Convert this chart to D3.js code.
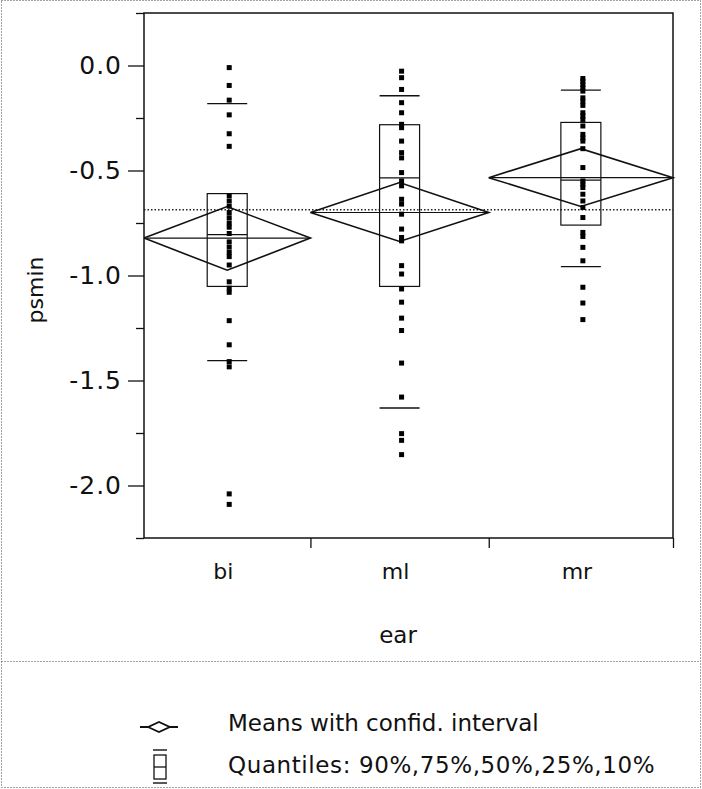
<!DOCTYPE html>
<html>
<head>
<meta charset="utf-8">
<script src="https://cdn.jsdelivr.net/npm/d3@7"></script>
<style>
  html, body { margin: 0; padding: 0; background: #fff; }
  svg { display: block; }
  text { font-family: "DejaVu Sans", sans-serif; fill: #111; }
</style>
</head>
<body>
<svg id="chart" width="702" height="789"></svg>
<script>
// One-way analysis of psmin by ear
const categories = ["bi", "ml", "mr"];

const pointsBi = [-0.01, -0.095, -0.165, -0.235, -0.325, -0.385,
  -0.62, -0.645, -0.67, -0.70, -0.725, -0.75, -0.77, -0.80, -0.84, -0.865,
  -0.89, -0.91, -0.95, -1.03, -1.06, -1.08,
  -1.215, -1.33, -1.41, -1.435, -2.04, -2.09];
const pointsMl = [-0.027, -0.058, -0.114, -0.177, -0.225, -0.28, -0.296,
  -0.36, -0.415, -0.44, -0.51, -0.55, -0.573, -0.637, -0.66, -0.708,
  -0.779, -0.819, -0.835, -0.953, -0.993, -1.064, -1.127, -1.203, -1.262,
  -1.417, -1.579, -1.753, -1.785, -1.853];
const pointsMr = [-0.062, -0.075, -0.09, -0.105, -0.122, -0.154, -0.17,
  -0.19, -0.225, -0.24, -0.257, -0.288, -0.328, -0.345, -0.36, -0.396,
  -0.486, -0.55, -0.565, -0.581, -0.613, -0.645, -0.676, -0.724, -0.795,
  -0.814, -0.866, -0.93, -1.056, -1.131, -1.21];

// quantiles: 90%, 75%, 50%, 25%, 10%
const q90 = [-0.182, -0.144, -0.117];
const q75 = [-0.61, -0.282, -0.271];
const q50 = [-0.805, -0.535, -0.546];
const q25 = [-1.052, -1.052, -0.76];
const q10 = [-1.405, -1.631, -0.958];

// group means with 95% confidence limits
const means = [-0.822, -0.700, -0.534];
const ciUpper = [-0.672, -0.557, -0.396];
const ciLower = [-0.975, -0.838, -0.671];
const grandMean = -0.687;

const yMajorTicks = [0.0, -0.5, -1.0, -1.5, -2.0];
const yMinorTicks = [0.25, -0.25, -0.75, -1.25, -1.75, -2.25];

const legendItems = ["Means with confid. interval", "Quantiles: 90%,75%,50%,25%,10%"];

// ---------------------------------------------------------------
const svg = d3.select("#chart");
const W = 702, H = 789;
const frame = { left: 144, right: 673, top: 13, bottom: 538 };

const groups = categories.map((c, i) => ({
  name: c,
  pts: [pointsBi, pointsMl, pointsMr][i],
  q90: q90[i], q75: q75[i], q50: q50[i], q25: q25[i], q10: q10[i],
  mean: means[i], hi: ciUpper[i], lo: ciLower[i]
}));

// band widths are proportional to group size
const total = d3.sum(groups, g => g.pts.length);
let cum = 0;
groups.forEach(g => { g.c0 = cum; cum += g.pts.length; g.c1 = cum; });

const x = d3.scaleLinear().domain([0, total]).range([frame.left, frame.right]);
const y = d3.scaleLinear().domain([0.25, -2.25]).range([frame.top, frame.bottom]);

// page borders (dotted)
const border = svg.append("g").attr("stroke", "#444").attr("stroke-width", 1)
  .attr("stroke-dasharray", "1,2").attr("fill", "none");
border.append("rect").attr("x", 1.5).attr("y", 0.5).attr("width", W - 3).attr("height", H - 2);
border.append("line").attr("x1", 1.5).attr("x2", W - 1.5).attr("y1", 661.5).attr("y2", 661.5);

// y axis with major and minor ticks
const yAxis = svg.append("g").attr("transform", `translate(${frame.left},0)`);
yAxis.call(d3.axisLeft(y).tickValues(yMajorTicks).tickSize(16).tickPadding(6)
  .tickFormat(d => d3.format(".1f")(d).replace("−", "-")));
yAxis.append("g").call(d3.axisLeft(y).tickValues(yMinorTicks).tickSize(8).tickFormat(""));
yAxis.selectAll(".domain").remove();
yAxis.selectAll("line").attr("stroke", "#111").attr("stroke-width", 1.3);
yAxis.selectAll("text").style("font-size", "25px").style("font-family", "DejaVu Sans")
  .attr("fill", "#111").attr("letter-spacing", "1px");

// x axis: ticks at the group boundaries
const xAxis = svg.append("g").attr("transform", `translate(0,${frame.bottom})`);
xAxis.call(d3.axisBottom(x).tickValues(groups.map(g => g.c1)).tickSize(10).tickFormat(""));
xAxis.selectAll(".domain").remove();
xAxis.selectAll("line").attr("stroke", "#111").attr("stroke-width", 1.3);

svg.append("g").selectAll("text").data(groups).join("text")
  .attr("x", g => x((g.c0 + g.c1) / 2) - 4)
  .attr("y", 579)
  .attr("text-anchor", "middle")
  .style("font-size", "22px")
  .text(g => g.name);

// frame
svg.append("rect")
  .attr("x", frame.left).attr("y", frame.top)
  .attr("width", frame.right - frame.left).attr("height", frame.bottom - frame.top)
  .attr("fill", "none").attr("stroke", "#111").attr("stroke-width", 1.5);

// axis titles
svg.append("text").attr("x", 398).attr("y", 643).attr("text-anchor", "middle")
  .style("font-size", "23px").text("ear");
svg.append("text").attr("transform", "translate(43,290) rotate(-90)")
  .attr("text-anchor", "middle").style("font-size", "22px").text("psmin");

// grand mean reference line
svg.append("line")
  .attr("x1", frame.left).attr("x2", frame.right)
  .attr("y1", y(grandMean)).attr("y2", y(grandMean))
  .attr("stroke", "#222").attr("stroke-width", 1.3).attr("stroke-dasharray", "1.5,2");

const plot = svg.append("g");
const boxW = 40;

groups.forEach(g => {
  const cx = x((g.c0 + g.c1) / 2);
  const gg = plot.append("g").attr("stroke", "#111").attr("fill", "none");

  // quantile box
  gg.append("rect")
    .attr("x", cx - boxW / 2).attr("y", y(g.q75))
    .attr("width", boxW).attr("height", y(g.q25) - y(g.q75))
    .attr("stroke-width", 1.2);
  [g.q90, g.q50, g.q10].forEach(v => {
    gg.append("line")
      .attr("x1", cx - boxW / 2).attr("x2", cx + boxW / 2)
      .attr("y1", y(v)).attr("y2", y(v)).attr("stroke-width", 1.3);
  });

  // mean diamond
  const x0 = x(g.c0), x1 = x(g.c1);
  gg.append("path")
    .attr("d", d3.line()([[x0, y(g.mean)], [cx, y(g.hi)], [x1, y(g.mean)], [cx, y(g.lo)], [x0, y(g.mean)]]))
    .attr("stroke-width", 1.6).attr("stroke-linejoin", "miter");
  gg.append("line")
    .attr("x1", x0).attr("x2", x1)
    .attr("y1", y(g.mean)).attr("y2", y(g.mean)).attr("stroke-width", 1.2);

  // observations
  plot.append("g").selectAll("rect").data(g.pts).join("rect")
    .attr("x", cx - 0.5).attr("y", d => y(d) - 2.5)
    .attr("width", 5).attr("height", 5)
    .attr("fill", "#000");
});

// legend
const lg = svg.append("g").attr("stroke", "#111").attr("fill", "none").attr("stroke-width", 1.8);
lg.append("path").attr("d", d3.line()([[140, 727], [148, 727], [159, 722], [170, 727], [178, 727], [170, 727], [159, 732], [148, 727]]));
lg.append("line").attr("x1", 153).attr("x2", 167).attr("y1", 750).attr("y2", 750).attr("stroke-width", 1.4);
lg.append("rect").attr("x", 154).attr("y", 755).attr("width", 12).attr("height", 24).attr("stroke-width", 1.3);
lg.append("line").attr("x1", 154).attr("x2", 166).attr("y1", 767).attr("y2", 767).attr("stroke-width", 1.3);
lg.append("line").attr("x1", 153).attr("x2", 167).attr("y1", 783).attr("y2", 783).attr("stroke-width", 1.4);

svg.append("g").selectAll("text").data(legendItems).join("text")
  .attr("x", 228).attr("y", (d, i) => 731 + i * 42)
  .attr("letter-spacing", (d, i) => i === 1 ? "0.6px" : "0px")
  .style("font-size", "23px")
  .text(d => d);
</script>
</body>
</html>
